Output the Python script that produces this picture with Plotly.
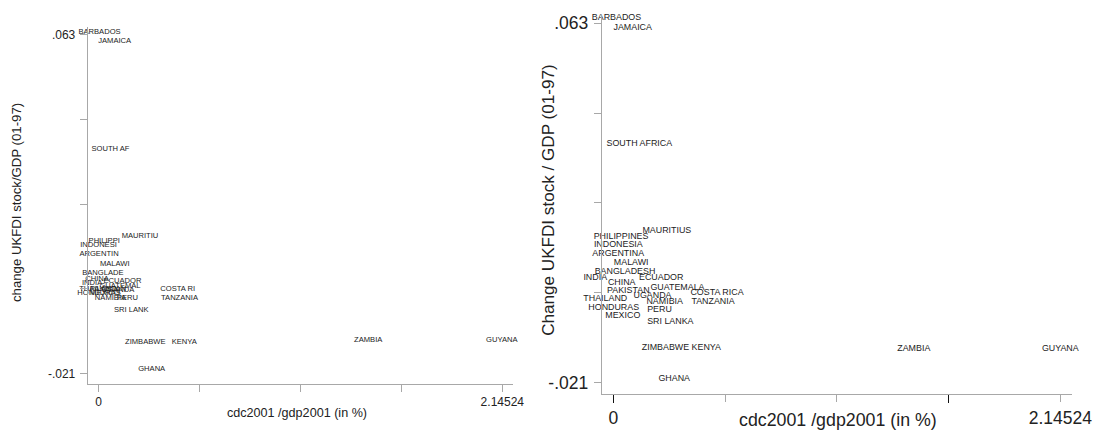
import plotly.graph_objects as go

countries = ["BARBADOS", "JAMAICA", "SOUTH AFRICA", "MAURITIUS", "PHILIPPINES", "INDONESIA",
             "ARGENTINA", "MALAWI", "BANGLADESH", "INDIA", "ECUADOR", "CHINA", "GUATEMALA",
             "PAKISTAN", "COSTA RICA", "UGANDA", "THAILAND", "NAMIBIA", "TANZANIA", "HONDURAS",
             "PERU", "MEXICO", "SRI LANKA", "ZIMBABWE", "KENYA", "ZAMBIA", "GUYANA", "GHANA"]

# right panel (full labels)
cdc_right = [0.0154, 0.0931, 0.1248, 0.2568, 0.0370, 0.0240, 0.0235, 0.0859, 0.0562, -0.030,
             0.2299, 0.0403, 0.3081, 0.0720, 0.4977, 0.1881, -0.0384, 0.2467, 0.4785, 0.0019,
             0.2217, 0.0456, 0.2736, 0.2505, 0.4463, 1.4422, 2.1452, 0.2923]
fdi_right = [0.0644, 0.0620, 0.0348, 0.0144, 0.0131, 0.0112, 0.0092, 0.0070, 0.0049, 0.0036,
             0.0034, 0.0024, 0.0011, 0.0005, 0.0000, -0.0008, -0.0015, -0.0021, -0.0021, -0.0034,
             -0.0040, -0.0054, -0.0068, -0.0128, -0.0128, -0.0130, -0.0130, -0.0202]

# left panel (labels truncated to 8 characters)
cdc_left = [0.0043, 0.0850, 0.0627, 0.2195, 0.0292, -0.0011, 0.0016, 0.0856, 0.0218, -0.035,
            0.1265, -0.009, 0.1132, 0.049, 0.4199, 0.1026, -0.004, 0.0627, 0.4295, 0.0016,
            0.1531, 0.0335, 0.1727, 0.2477, 0.455, 1.4324, 2.1425, 0.2817]
fdi_left = [0.0637, 0.0614, 0.0346, 0.0130, 0.0118, 0.0107, 0.0087, 0.0061, 0.0038, 0.0014,
            0.0019, 0.0024, 0.0007, -0.0001, -0.0001, -0.0003, -0.0001, -0.0022, -0.0022, -0.0011,
            -0.0022, -0.0011, -0.0053, -0.0131, -0.0131, -0.0127, -0.0127, -0.0200]

x_ticks = [0, 0.53631, 1.07262, 1.60893, 2.14524]
x_ticktext = ["0", "", "", "", "2.14524"]
y_ticks = [-0.021, 0, 0.021, 0.042, 0.063]
y_ticktext = ["-.021", "", "", "", ".063"]
dark_x_ticks = [0, 1.60893]

FONT = "Liberation Sans, Arial, sans-serif"
TXT = "#222222"
AX = "#a8a8a8"

right_pos = ["middle left" if c == "INDIA" else "middle center" for c in countries]

fig = go.Figure()
fig.add_trace(go.Scatter(x=cdc_left, y=fdi_left, mode="text",
                         text=[c[:8] for c in countries], textposition="middle center",
                         textfont=dict(family=FONT, size=7.6, color=TXT), cliponaxis=False,
                         xaxis="x", yaxis="y", showlegend=False, hoverinfo="skip"))
fig.add_trace(go.Scatter(x=cdc_right, y=fdi_right, mode="text",
                         text=countries, textposition=right_pos,
                         textfont=dict(family=FONT, size=8.9, color=TXT), cliponaxis=False,
                         xaxis="x2", yaxis="y2", showlegend=False, hoverinfo="skip"))
fig.add_trace(go.Scatter(x=[None], y=[None], mode="markers", xaxis="x3", yaxis="y2",
                         showlegend=False, hoverinfo="skip"))

def axis(domain, rng, tv, tt, fs, anchor, standoff):
    return dict(domain=domain, range=rng, tickvals=tv, ticktext=tt, anchor=anchor,
                showgrid=False, zeroline=False, showline=True, linecolor=AX, linewidth=1,
                ticks="outside", ticklen=7, tickcolor=AX, tickwidth=1, automargin=False,
                tickfont=dict(family=FONT, size=fs, color=TXT), ticklabelstandoff=standoff)

x3 = dict(domain=[0.54800, 0.97632], range=[-0.0557, 2.2014], overlaying="x2", anchor="y2",
          tickvals=dark_x_ticks, ticktext=["", ""], showgrid=False, zeroline=False, showline=False,
          ticks="outside", ticklen=8, tickcolor="#111111", tickwidth=1.3, automargin=False)

fig.update_layout(
    width=1098, height=433, margin=dict(l=0, r=0, t=0, b=0, autoexpand=False),
    paper_bgcolor="white", plot_bgcolor="white",
    xaxis=axis([0.07987, 0.46694], [-0.0585, 2.2005], x_ticks, x_ticktext, 12, "y", 0),
    yaxis=axis([0.11386, 0.93764], [-0.02353, 0.06486], y_ticks, y_ticktext, 12, "x", 2),
    xaxis2=axis([0.54800, 0.97632], [-0.0557, 2.2014], x_ticks, x_ticktext, 17.5, "y2", 1),
    yaxis2=axis([0.09076, 0.96536], [-0.02358, 0.06493], y_ticks, y_ticktext, 17.5, "x2", 2),
    xaxis3=x3,
    annotations=[
        dict(text="cdc2001 /gdp2001 (in %)", x=296.7 / 1098, y=1 - 413.3 / 433, xref="paper", yref="paper",
             showarrow=False, xanchor="center", yanchor="middle", font=dict(family=FONT, size=12.6, color=TXT)),
        dict(text="change UKFDI stock/GDP (01-97)", x=17 / 1098, y=1 - 203 / 433, xref="paper", yref="paper",
             showarrow=False, textangle=-90, xanchor="center", yanchor="middle", font=dict(family=FONT, size=13.2, color=TXT)),
        dict(text="cdc2001 /gdp2001 (in %)", x=837.5 / 1098, y=1 - 420 / 433, xref="paper", yref="paper",
             showarrow=False, xanchor="center", yanchor="middle", font=dict(family=FONT, size=17.8, color=TXT)),
        dict(text="Change UKFDI stock / GDP (01-97)", x=549 / 1098, y=1 - 200.8 / 433, xref="paper", yref="paper",
             showarrow=False, textangle=-90, xanchor="center", yanchor="middle", font=dict(family=FONT, size=17.1, color=TXT)),
    ],
)

fig.write_html("out.html")
